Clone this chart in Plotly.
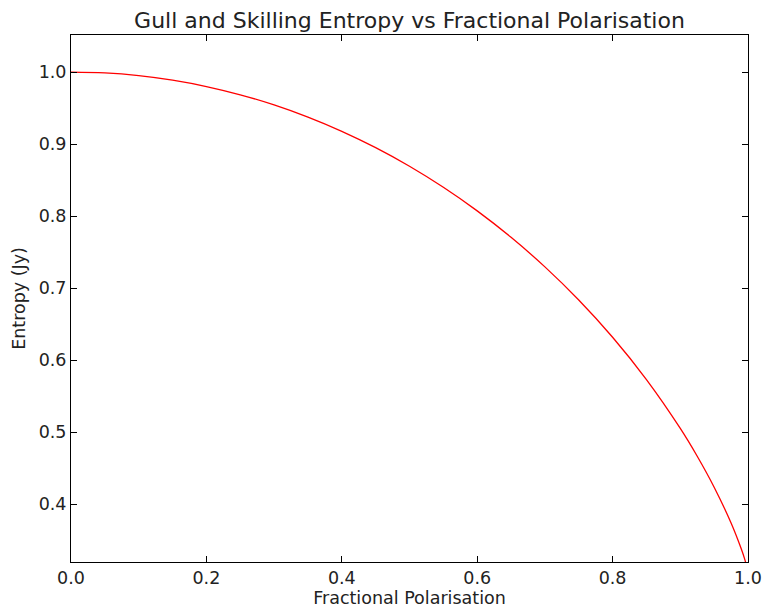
import plotly.graph_objects as go

# Fractional polarisation (x) and entropy (y)
polarisation = [0.0, 0.05, 0.1, 0.15, 0.2, 0.25, 0.3, 0.35, 0.4, 0.45, 0.5,
                0.55, 0.6, 0.65, 0.7, 0.75, 0.8, 0.85, 0.9, 0.925, 0.95,
                0.975, 0.99, 0.995, 1.0]
entropy = [1.0, 0.9988, 0.9950, 0.9887, 0.9799, 0.9684, 0.9543, 0.9374,
           0.9177, 0.8950, 0.8692, 0.8400, 0.8073, 0.7706, 0.7296, 0.6836,
           0.6319, 0.5732, 0.5054, 0.4668, 0.4238, 0.3741, 0.3383, 0.3243,
           0.3069]

x_ticks = [0.0, 0.2, 0.4, 0.6, 0.8, 1.0]
y_ticks = [0.4, 0.5, 0.6, 0.7, 0.8, 0.9, 1.0]

fig = go.Figure()
fig.add_trace(go.Scatter(x=polarisation, y=entropy, mode="lines",
                         line=dict(color="red", width=1.3, shape="spline"),
                         showlegend=False))

font = "DejaVu Sans"
axis_common = dict(showline=True, linecolor="black", linewidth=1, mirror="allticks",
                   ticks="inside", ticklen=6, tickcolor="black", showgrid=False,
                   zeroline=False, automargin=False,
                   tickfont=dict(family=font, size=17.5, color="#222222"))

fig.update_layout(
    width=768, height=608,
    margin=dict(l=71, r=20, t=35, b=46),
    paper_bgcolor="white", plot_bgcolor="white",
    title=dict(text="Gull and Skilling Entropy vs Fractional Polarisation",
               xref="paper", x=0.5, xanchor="center",
               yref="container", y=1 - 20 / 608, yanchor="middle",
               font=dict(family=font, size=22, color="#222222")),
    xaxis=dict(range=[0, 1], tickvals=x_ticks, ticktext=[f"{v:.1f}" for v in x_ticks],
               title=dict(text="Fractional Polarisation", standoff=0,
                          font=dict(family=font, size=17.5, color="#222222")),
               **axis_common),
    yaxis=dict(range=[0.32, 1.0514], tickvals=y_ticks, ticktext=[f"{v:.1f}" for v in y_ticks],
               title=dict(text="Entropy (Jy)", standoff=8,
                          font=dict(family=font, size=17.5, color="#222222")),
               **axis_common),
)

fig.write_html("out.html")
